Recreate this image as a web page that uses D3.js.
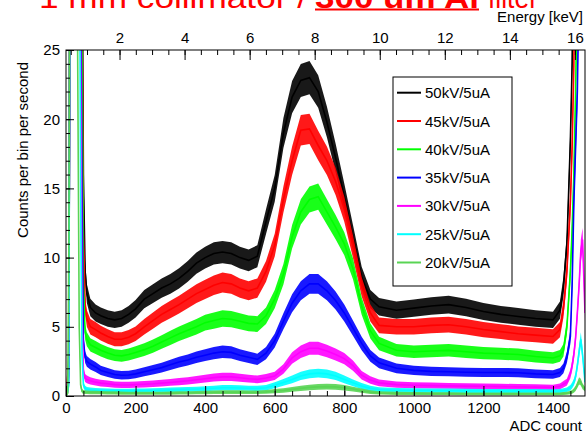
<!DOCTYPE html>
<html>
<head>
<meta charset="utf-8">
<script src="https://cdn.jsdelivr.net/npm/d3@7"></script>
<style>
  body { margin: 0; background: #fff; }
  text { font-family: "Liberation Sans", Arial, sans-serif; }
</style>
</head>
<body>
<svg id="chart" width="586" height="434"></svg>
<script>
// ADC sample positions (finer near the edges)
const adc = [0, 5, 8, 12, 20, 30, 38, 42, 46, 50,
  55, 60, 70, 85, 100, 120, 140, 160, 180, 200,
  225, 250, 275, 300, 325, 350, 375, 400, 425, 450,
  475, 500, 525, 550, 575, 600, 625, 650, 675, 700,
  725, 750, 775, 800, 825, 850, 875, 900, 950, 1000,
  1050, 1100, 1150, 1200, 1250, 1300, 1350, 1400, 1420, 1430,
  1440, 1450, 1455, 1460, 1465, 1470, 1475, 1480, 1485, 1492];

const kv50 = [0, 0.5, 2, 40, 40, 40, 40, 40, 35, 16,
  9.0, 7.4, 6.4, 6.0, 5.8, 5.6, 5.5, 5.6, 5.9, 6.3,
  7.0, 7.4, 7.8, 8.1, 8.5, 9.0, 9.6, 10.0, 10.3, 10.4,
  10.3, 10.0, 9.8, 10.1, 12.6, 15.0, 19.0, 21.6, 22.8, 23.0,
  22.0, 19.8, 17.2, 14.4, 11.5, 8.6, 7.0, 6.45, 6.2, 6.35,
  6.5, 6.6, 6.4, 6.1, 5.9, 5.75, 5.6, 5.5, 6.2, 7.9,
  11.0, 18.5, 24, 40, 40, 40, 40, 40, 40, 40];

const kv45 = [0, 1.5, 3, 40, 40, 40, 40, 40, 30, 12,
  6.5, 5.6, 5.0, 4.8, 4.55, 4.3, 4.1, 4.1, 4.25, 4.5,
  5.0, 5.45, 5.9, 6.25, 6.6, 7.0, 7.4, 7.7, 8.0, 8.2,
  8.1, 7.8, 7.6, 7.8, 9.0, 10.9, 14.2, 17.0, 19.2, 19.3,
  18.1, 17.0, 15.5, 13.5, 10.8, 7.9, 6.0, 5.1, 5.0, 5.0,
  5.1, 5.15, 5.0, 4.8, 4.65, 4.5, 4.4, 4.3, 4.8, 6.3,
  9.0, 14.0, 18, 24, 40, 40, 40, 40, 40, 40];

const kv40 = [0, 0.5, 1.5, 40, 40, 40, 40, 40, 25, 8,
  4.6, 4.1, 3.7, 3.5, 3.3, 3.1, 2.95, 2.9, 3.0, 3.15,
  3.35, 3.6, 3.9, 4.2, 4.5, 4.75, 5.0, 5.3, 5.45, 5.6,
  5.55, 5.4, 5.25, 5.2, 5.8, 7.0, 8.8, 11.5, 13.3, 14.2,
  14.4, 13.3, 12.2, 11.0, 9.2, 6.5, 4.7, 3.8, 3.3, 3.2,
  3.25, 3.3, 3.2, 3.1, 3.05, 3.0, 2.85, 2.75, 2.9, 3.3,
  5.0, 9.0, 12, 16, 22, 30, 40, 40, 40, 40];

const kv35 = [0, 1.0, 1.5, 40, 40, 40, 40, 35, 15, 4,
  2.8, 2.5, 2.3, 2.1, 1.85, 1.7, 1.55, 1.5, 1.52, 1.6,
  1.75, 1.9, 2.05, 2.25, 2.45, 2.6, 2.8, 2.95, 3.1, 3.2,
  3.15, 2.95, 2.8, 2.65, 3.1, 4.0, 5.4, 6.7, 7.6, 8.1,
  8.1, 7.6, 6.9, 6.0, 4.9, 3.8, 2.9, 2.4, 2.0, 1.85,
  1.78, 1.75, 1.72, 1.7, 1.7, 1.68, 1.6, 1.55, 1.7, 2.0,
  2.8, 4.3, 8, 14, 18, 22, 30, 40, 40, 40];

const kv30 = [0, 0.3, 1, 40, 40, 40, 40, 25, 6, 1.8,
  1.3, 1.2, 1.1, 1.0, 0.93, 0.88, 0.82, 0.8, 0.8, 0.82,
  0.85, 0.88, 0.93, 0.98, 1.04, 1.1, 1.18, 1.25, 1.33, 1.38,
  1.38, 1.32, 1.25, 1.2, 1.3, 1.45, 1.95, 2.75, 3.2, 3.45,
  3.45, 3.25, 3.0, 2.7, 2.2, 1.5, 1.15, 0.95, 0.82, 0.78,
  0.75, 0.73, 0.71, 0.7, 0.68, 0.66, 0.64, 0.62, 0.7, 0.85,
  1.0, 1.6, 2.2, 3.0, 4.2, 6.0, 8.0, 10.5, 11.3, 6];

const kv25 = [0, 0.3, 0.8, 40, 40, 40, 40, 15, 3, 0.8,
  0.55, 0.48, 0.44, 0.42, 0.4, 0.38, 0.37, 0.37, 0.37, 0.38,
  0.39, 0.4, 0.42, 0.44, 0.46, 0.48, 0.5, 0.53, 0.56, 0.6,
  0.6, 0.58, 0.56, 0.55, 0.6, 0.78, 0.98, 1.2, 1.45, 1.6,
  1.65, 1.6, 1.45, 1.2, 0.95, 0.72, 0.55, 0.46, 0.42, 0.4,
  0.39, 0.38, 0.37, 0.36, 0.36, 0.35, 0.35, 0.34, 0.36, 0.4,
  0.45, 0.6, 0.75, 1.0, 1.4, 2.2, 3.2, 4.1, 3.0, 1.0];

const kv20 = [0, 0.2, 10, 40, 40, 40, 5, 0.8, 0.35, 0.3,
  0.28, 0.27, 0.26, 0.25, 0.24, 0.23, 0.22, 0.21, 0.2, 0.2,
  0.2, 0.2, 0.2, 0.21, 0.22, 0.23, 0.24, 0.25, 0.27, 0.28,
  0.28, 0.28, 0.27, 0.27, 0.3, 0.35, 0.4, 0.48, 0.55, 0.62,
  0.66, 0.68, 0.66, 0.6, 0.5, 0.38, 0.28, 0.22, 0.19, 0.18,
  0.17, 0.17, 0.16, 0.16, 0.15, 0.15, 0.15, 0.15, 0.16, 0.18,
  0.2, 0.25, 0.3, 0.4, 0.55, 0.8, 1.1, 1.0, 0.7, 0.5];

const seriesNames = ["50kV/5uA", "45kV/5uA", "40kV/5uA", "35kV/5uA", "30kV/5uA", "25kV/5uA", "20kV/5uA"];
const seriesValues = [kv50, kv45, kv40, kv35, kv30, kv25, kv20];
const seriesColors = ["#000000", "#ff0000", "#00ff00", "#0000ff", "#ff00ff", "#00ffff", "#59d454"];

const adcTicks = [0, 200, 400, 600, 800, 1000, 1200, 1400];
const countTicks = [0, 5, 10, 15, 20, 25];
const energyTicks = [2, 4, 6, 8, 10, 12, 14, 16];

const pLeft = 66, pRight = 585, pTop = 50, pBottom = 396;
const svg = d3.select('#chart');

let x = d3.scaleLinear().domain([0, 1492]).range([pLeft, pRight]);
let xE = d3.scaleLinear().domain([0.354, 16.31]).range([pLeft, pRight]);
let y = d3.scaleLinear().domain([0, 25]).range([pBottom, pTop]);

// title (cut at the top of the picture)
svg.append('text').attr('x', 39).attr('y', 8).attr('fill', '#ff0000')
  .style('font-size', '30px').attr('textLength', 268).attr('lengthAdjust', 'spacingAndGlyphs')
  .text('1 mm collimator /');
svg.append('text').attr('x', 315).attr('y', 8).attr('fill', '#ff0000')
  .style('font-size', '30px').style('font-weight', 'bold')
  .attr('textLength', 164).attr('lengthAdjust', 'spacingAndGlyphs')
  .text('300 um Al');
svg.append('rect').attr('x', 315).attr('y', 8.5).attr('width', 164).attr('height', 2).attr('fill', '#ff0000');
svg.append('text').attr('x', 488).attr('y', 8).attr('fill', '#ff0000')
  .style('font-size', '30px').attr('textLength', 50).attr('lengthAdjust', 'spacingAndGlyphs')
  .text('filter');

svg.append('clipPath').attr('id', 'plotclip')
  .append('rect').attr('x', pLeft).attr('y', pTop).attr('width', pRight - pLeft).attr('height', pBottom - pTop);

const plot = svg.append('g').attr('clip-path', 'url(#plotclip)');
const k = 0.25;

let band = d3.area()
  .x((d, i) => x(adc[i]))
  .y0(v => y(Math.max(0, v - k * Math.sqrt(v))))
  .y1(v => y(v + k * Math.sqrt(v)));

let line = d3.line()
  .x((d, i) => x(adc[i]))
  .y(v => y(v));

seriesValues.forEach((vals, s) => {
  plot.append('path').datum(vals)
    .attr('d', band)
    .attr('fill', seriesColors[s])
    .attr('fill-opacity', 0.9);
  plot.append('path').datum(vals)
    .attr('d', line)
    .attr('fill', 'none')
    .attr('stroke', seriesColors[s])
    .attr('stroke-width', 1.6);
});

// frame
svg.append('rect').attr('x', pLeft).attr('y', pTop).attr('width', pRight - pLeft).attr('height', pBottom - pTop)
  .attr('fill', 'none').attr('stroke', '#000').attr('stroke-width', 1);

function styleAxis(g) {
  g.select('.domain').remove();
  g.selectAll('line').attr('stroke', '#000');
  g.selectAll('text').style('font-size', '15px').attr('fill', '#000')
    .style('font-family', '"Liberation Sans", Arial, sans-serif');
}

// bottom axis
svg.append('g').attr('transform', `translate(0,${pBottom})`)
  .call(d3.axisBottom(x).tickValues(d3.range(0, 1492, 50)).tickSize(-5).tickFormat(''))
  .call(styleAxis);
svg.append('g').attr('transform', `translate(0,${pBottom})`)
  .call(d3.axisBottom(x).tickValues(adcTicks).tickSize(-10).tickPadding(6).tickFormat(d3.format('d')))
  .call(styleAxis);

// left axis
svg.append('g').attr('transform', `translate(${pLeft},0)`)
  .call(d3.axisLeft(y).tickValues(d3.range(0, 26, 1)).tickSize(-4).tickFormat(''))
  .call(styleAxis);
svg.append('g').attr('transform', `translate(${pLeft},0)`)
  .call(d3.axisLeft(y).tickValues(countTicks).tickSize(-8).tickPadding(6).tickFormat(d3.format('d')))
  .call(styleAxis);

// top energy axis
svg.append('g').attr('transform', `translate(0,${pTop})`)
  .call(d3.axisTop(xE).tickValues(d3.range(0.5, 16.3, 0.5)).tickSize(-5).tickFormat(''))
  .call(styleAxis);
svg.append('g').attr('transform', `translate(0,${pTop})`)
  .call(d3.axisTop(xE).tickValues(energyTicks).tickSize(-10).tickPadding(7).tickFormat(d3.format('d')))
  .call(styleAxis);

// axis titles
svg.append('text').attr('x', 582).attr('y', 431).attr('text-anchor', 'end')
  .style('font-size', '15px').text('ADC count');
svg.append('text').attr('x', 583).attr('y', 22).attr('text-anchor', 'end')
  .style('font-size', '15px').text('Energy [keV]');
svg.append('text').attr('transform', 'translate(28,62) rotate(-90)').attr('text-anchor', 'end')
  .style('font-size', '15px').text('Counts per bin per second');

// legend
const legend = svg.append('g');
legend.append('rect').attr('x', 393).attr('y', 77).attr('width', 119).attr('height', 209)
  .attr('fill', '#fff').attr('stroke', '#000').attr('stroke-width', 1);
seriesNames.forEach((name, s) => {
  const cy = 92.7 + s * 28.3;
  legend.append('line').attr('x1', 397).attr('x2', 421).attr('y1', cy).attr('y2', cy)
    .attr('stroke', seriesColors[s]).attr('stroke-width', 2);
  legend.append('text').attr('x', 425).attr('y', cy + 5.5)
    .style('font-size', '15px').text(name);
});
</script>
</body>
</html>
